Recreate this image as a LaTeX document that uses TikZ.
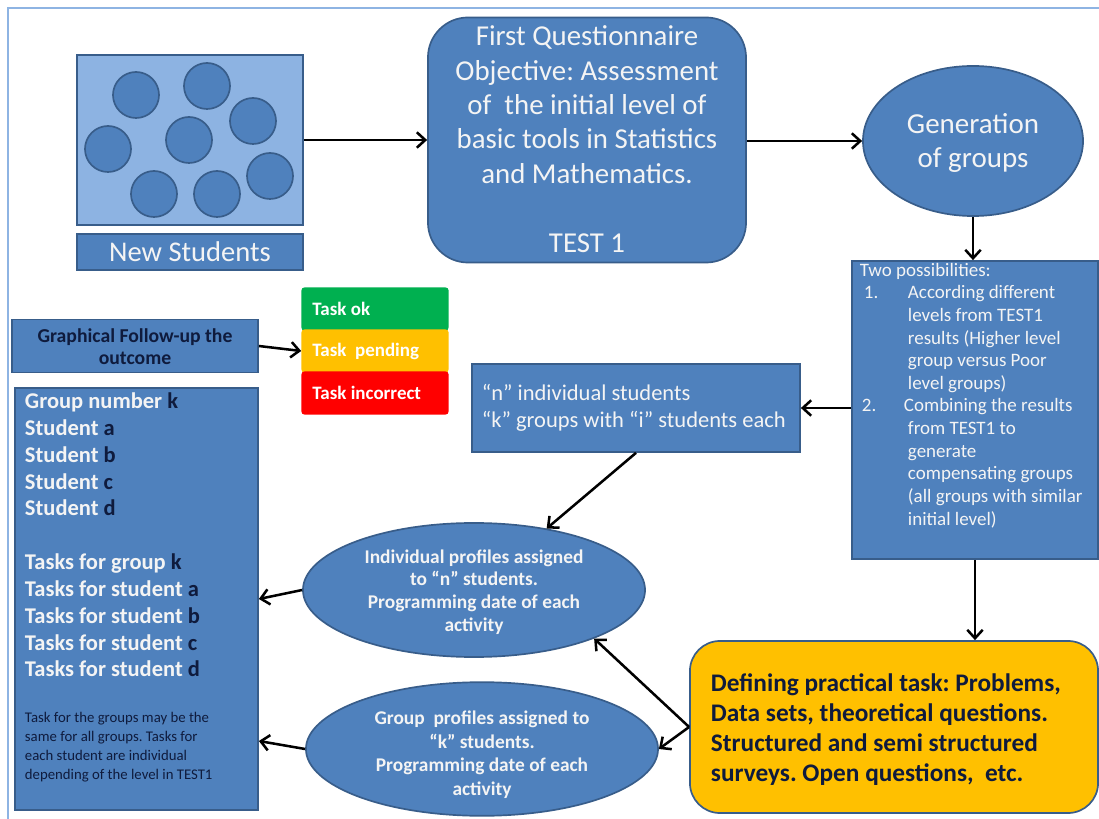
\documentclass[tikz,border=0pt]{standalone}
\usepackage{fontspec}
\setmainfont{Carlito}
\usetikzlibrary{shapes.geometric,arrows.meta,calc}

\definecolor{boxblue}{HTML}{4F81BD}
\definecolor{edgeblue}{HTML}{385D8A}
\definecolor{lightblue}{HTML}{8DB3E2}
\definecolor{framecol}{HTML}{8EB4E3}
\definecolor{navy}{HTML}{0F1B3D}
\definecolor{paleink}{HTML}{F4F4F4}
\definecolor{okgreen}{HTML}{00B050}
\definecolor{pendyellow}{HTML}{FFC000}
\definecolor{badred}{HTML}{FF0000}

\newcommand{\fs}[2]{\fontsize{#1}{#2}\selectfont}
\newcommand{\dk}[1]{\textcolor{navy}{#1}}
\newcommand{\ctext}[1]{\begin{tabular}{@{}c@{}}#1\end{tabular}}
\newcommand{\dropby}[2]{\raisebox{-#1}[\height][\depth]{#2}}
\frenchspacing

\begin{document}
\begin{tikzpicture}[x=0.025cm,y=-0.025cm,
    bluebox/.style={draw=edgeblue,line width=1.2pt,fill=boxblue,text=paleink},
    blueoval/.style={bluebox,ellipse,inner sep=0pt},
    taskbox/.style={rounded corners=2pt,minimum width=3.675cm,minimum height=1.075cm,
        inner xsep=0.275cm,text=white,font=\bfseries\fs{13.5}{16}},
    link/.style={line width=1.8pt,-{Straight Barb[length=6pt,width=11pt]}}]
    \fill[white] (0,0) rectangle (1099,819);
    \useasboundingbox (0,0) rectangle (1099,819);
    \draw[framecol,line width=1.5pt] (8,819) -- (8,8) -- (1099,8);

    % new students
    \node[draw=edgeblue,line width=1.2pt,fill=lightblue,minimum width=5.65cm,minimum height=4.25cm] (stud) at (190,140) {};
    \foreach \cx/\cy in {136/95,207/86,253/121,108/149,189/140,270/176,154/194,217/194}
        \draw[edgeblue,line width=1.2pt,fill=boxblue] (\cx,\cy) circle[radius=0.575cm];
    \node[bluebox,minimum width=5.65cm,minimum height=0.9cm,font=\fs{20.3}{24}] (newstud) at (190,252) {New Students};

    % first test
    \node[bluebox,rounded corners=1cm,minimum width=7.95cm,minimum height=6.125cm,inner ysep=0pt,font=\fs{20.5}{24.5}] (quest) at (587,140)
        {\dropby{1.5pt}{\ctext{First Questionnaire\\Objective: Assessment\\of\ \ the initial level of\\basic tools in Statistics\\and Mathematics.\\[24.5pt]TEST 1}}};
    \node[blueoval,minimum width=5.5cm,minimum height=3.75cm,font=\fs{20.6}{24}] (gen) at (973,141) {\dropby{2pt}{\ctext{Generation\\of groups}}};

    \node[bluebox,minimum width=6.15cm,minimum height=7.45cm,inner xsep=0.2cm,inner ysep=0.05cm] (twoposs) at (975,410)
        {\parbox[c][7.35cm][t]{5.75cm}{\raggedright\fs{13.5}{16.1}%
        Two possibilities:\\
        \hspace*{0.1cm}\makebox[1.1cm][l]{1.}According different\\
        \hspace*{1.2cm}levels from TEST1\\
        \hspace*{1.2cm}results (Higher level\\
        \hspace*{1.2cm}group versus Poor\\
        \hspace*{1.2cm}level groups)\\
        \hspace*{0.05cm}\makebox[1.05cm][l]{2.}Combining the results\\
        \hspace*{1.2cm}from TEST1 to\\
        \hspace*{1.2cm}generate\\
        \hspace*{1.2cm}compensating groups\\
        \hspace*{1.2cm}(all groups with similar\\
        \hspace*{1.2cm}initial level)}};

    \node[bluebox,minimum width=8.2cm,minimum height=2.2cm,inner xsep=0.25cm,font=\fs{16}{19}] (nbox) at (636,408)
        {\parbox{7.7cm}{\raggedright “n” individual students\\“k” groups with “i” students each}};

    % follow-up
    \node[bluebox,minimum width=6.15cm,minimum height=1.175cm,text=navy,font=\bfseries\fs{14}{15.6}] (follow) at (135,346)
        {\dropby{2pt}{\ctext{Graphical Follow-up the\\outcome}}};
    \node[taskbox,fill=okgreen] (taskok) at (375,309) {\parbox{3.125cm}{Task ok}};
    \node[taskbox,fill=pendyellow] (taskpend) at (375,351) {\parbox{3.125cm}{Task\ \ pending}};
    \node[taskbox,fill=badred] (taskbad) at (375,393) {\parbox{3.125cm}{Task incorrect}};

    \node[bluebox,minimum width=6.075cm,minimum height=10.55cm,inner xsep=0.25cm,inner ysep=0.05cm] (grpbox) at (136.5,599)
        {\parbox[c][10.45cm][t]{5.575cm}{\raggedright\bfseries\fs{16}{19.1}%
        \vspace*{2pt}Group number \dk{k}\\Student \dk{a}\\Student \dk{b}\\Student \dk{c}\\Student \dk{d}\\[19pt]
        Tasks for group \dk{k}\\Tasks for student \dk{a}\\Tasks for student \dk{b}\\Tasks for student \dk{c}\\Tasks for student \dk{d}\par
        \vspace{19pt}
        {\mdseries\fs{10.5}{13.5}\color{navy}Task for the groups may be the\\same for all groups. Tasks for\\each student are individual\\depending of the level in TEST1\par}}};

    % profiles
    \node[blueoval,minimum width=8.55cm,minimum height=3.35cm,font=\bfseries\fs{13.8}{16.3}] (indiv) at (474,590)
        {\dropby{2pt}{\ctext{Individual profiles assigned\\to “n” students.\\Programming date of each\\activity}}};
    \node[blueoval,minimum width=8.8cm,minimum height=3.05cm,font=\bfseries\fs{13.8}{16.8}] (grpell) at (482,749)
        {\dropby{4.5pt}{\ctext{Group\ \ profiles assigned to\\“k” students.\\Programming date of each\\activity}}};

    \node[draw=edgeblue,line width=1.2pt,fill=pendyellow,rounded corners=0.75cm,minimum width=10.2cm,minimum height=4.3cm,
        inner xsep=0.525cm,text=navy,font=\bfseries\fs{18}{21.3}] (practical) at (894,727)
        {\dropby{2pt}{\parbox{9.6cm}{\raggedright Defining practical task: Problems,\\Data sets, theoretical questions.\\Structured and semi structured\\surveys. Open questions,\ \ etc.}}\hspace*{-0.45cm}};

    % connectors
    \draw[link] (stud.east) -- (quest.west |- stud.east);
    \draw[link] (quest.east |- gen.west) -- (gen.west);
    \draw[link] (gen.south) -- (gen.south |- twoposs.north);
    \draw[link] (twoposs.west |- nbox.east) -- (nbox.east);
    \draw[link] (nbox.south) -- (indiv);
    \draw[link] (indiv.west) -- (grpbox.east);
    \draw[link] (grpell.west) -- ($(grpbox.east |- grpell.west)+(0,-8)$);
    \draw[link] (follow.east) -- (taskpend.west);
    \draw[link] (twoposs.south) -- (twoposs.south |- practical.north);
    \draw[link] (practical.west) -- (indiv.-22);
    \draw[link] (practical.west) -- (grpell.east);
\end{tikzpicture}
\end{document}
